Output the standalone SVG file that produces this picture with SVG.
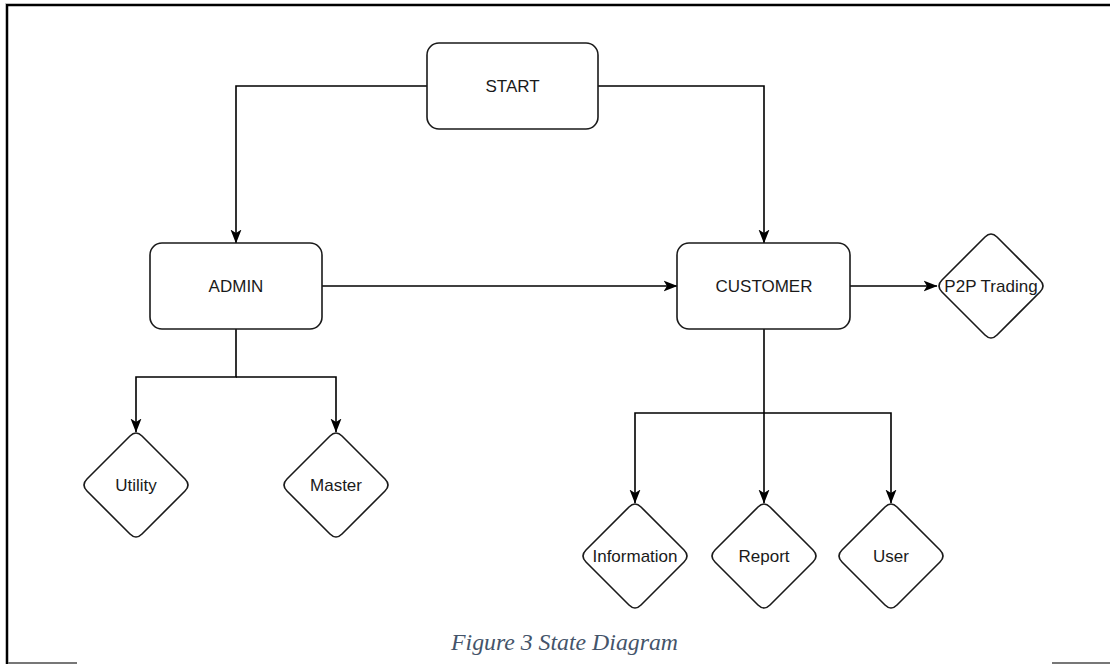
<svg xmlns="http://www.w3.org/2000/svg" width="1110" height="664" viewBox="0 0 1110 664">
  <style>
    .state { fill: #ffffff; stroke: #1a1a1a; stroke-width: 1.6; }
    .label { font-family: "Liberation Sans", Arial, Helvetica, sans-serif; font-size: 17px; fill: #1a1a1a; text-anchor: middle; dominant-baseline: central; }
    .edge { fill: none; stroke: #000000; stroke-width: 1.6; }
    .caption { font-family: "Liberation Serif", "Times New Roman", serif; font-style: italic; font-size: 23px; fill: #44546A; }
  </style>
  <defs>
    <marker id="arrow" viewBox="0 0 14 14" refX="13.5" refY="7" markerWidth="14" markerHeight="14" markerUnits="userSpaceOnUse" orient="auto">
      <path d="M0,1.5 L14,7 L0,12.5 L3.5,7 Z" fill="#000000"/>
    </marker>
    <!-- rhombus with softened corners, centred on the origin -->
    <path id="rhombus" d="M6,-49 L49,-6 Q55,0 49,6 L6,49 Q0,55 -6,49 L-49,6 Q-55,0 -49,-6 L-6,-49 Q0,-55 6,-49 Z"/>
  </defs>

  <rect width="1110" height="664" fill="#ffffff"/>

  <!-- page frame -->
  <path d="M7,664 V5 H1110" fill="none" stroke="#000000" stroke-width="2.5"/>
  <path d="M5.5,664 V3.5 H1110" fill="none" stroke="#bdbdbd" stroke-width="1"/>
  <path d="M8,663 H77 M1052,663 H1110" fill="none" stroke="#777777" stroke-width="2"/>

  <!-- connectors -->
  <g id="connectors">
    <path class="edge" d="M427,86 H236 V243" marker-end="url(#arrow)"/>
    <path class="edge" d="M598,86 H764 V243" marker-end="url(#arrow)"/>
    <path class="edge" d="M322,286 H677" marker-end="url(#arrow)"/>
    <path class="edge" d="M850,286 H937" marker-end="url(#arrow)"/>
    <path class="edge" d="M236,329 V377 H136 V432" marker-end="url(#arrow)"/>
    <path class="edge" d="M236,377 H336 V432" marker-end="url(#arrow)"/>
    <path class="edge" d="M764,329 V503" marker-end="url(#arrow)"/>
    <path class="edge" d="M764,413 H635 V503" marker-end="url(#arrow)"/>
    <path class="edge" d="M764,413 H891 V503" marker-end="url(#arrow)"/>
  </g>

  <!-- states -->
  <g id="start">
    <rect class="state" x="427" y="43" width="171" height="86" rx="12"/>
    <text class="label" x="512.5" y="86">START</text>
  </g>
  <g id="admin">
    <rect class="state" x="150" y="243" width="172" height="86" rx="12"/>
    <text class="label" x="236" y="286">ADMIN</text>
  </g>
  <g id="customer">
    <rect class="state" x="677" y="243" width="173" height="86" rx="12"/>
    <text class="label" x="764" y="286">CUSTOMER</text>
  </g>
  <g id="p2p-trading">
    <use href="#rhombus" class="state" transform="translate(991,286)"/>
    <text class="label" x="991" y="286">P2P Trading</text>
  </g>
  <g id="utility">
    <use href="#rhombus" class="state" transform="translate(136,485)"/>
    <text class="label" x="136" y="485">Utility</text>
  </g>
  <g id="master">
    <use href="#rhombus" class="state" transform="translate(336,485)"/>
    <text class="label" x="336" y="485">Master</text>
  </g>
  <g id="information">
    <use href="#rhombus" class="state" transform="translate(635,556)"/>
    <text class="label" x="635" y="556">Information</text>
  </g>
  <g id="report">
    <use href="#rhombus" class="state" transform="translate(764,556)"/>
    <text class="label" x="764" y="556">Report</text>
  </g>
  <g id="user">
    <use href="#rhombus" class="state" transform="translate(891,556)"/>
    <text class="label" x="891" y="556">User</text>
  </g>

  <text class="caption" x="451" y="650" textLength="227" lengthAdjust="spacingAndGlyphs">Figure 3 State Diagram</text>
</svg>
